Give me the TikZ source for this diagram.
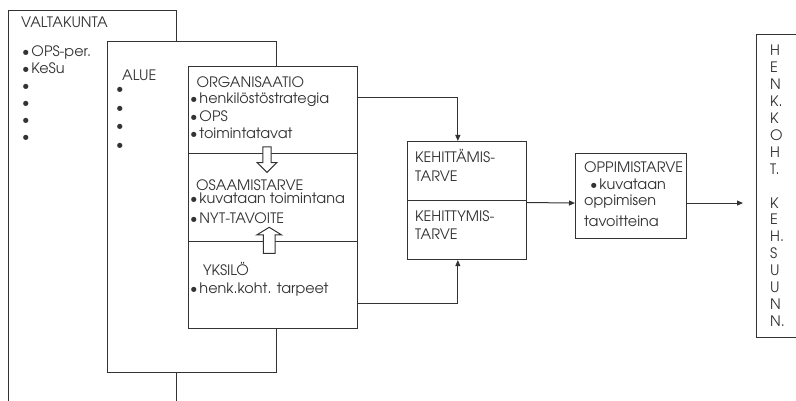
\documentclass[tikz,border=0pt]{standalone}
\usepackage{fontspec}
\setmainfont{TeX Gyre Adventor}
\usetikzlibrary{arrows.meta}
\definecolor{ink}{HTML}{333333}
\newcommand{\bul}{\textbullet\kern1.8pt}
\begin{document}
\begin{tikzpicture}[x=1pt,y=-1pt,
  frame/.style={draw=ink, line width=1.1pt, fill=white, inner sep=0pt, anchor=north west},
  lbl/.style={anchor=base west, inner sep=0pt, text=ink, font=\fontsize{14.4}{17}\selectfont},
  link/.style={draw=ink, line width=1pt, -{Triangle[length=6pt,width=5pt]}},
  hollow/.style={draw=ink, line width=1pt, fill=white, line join=miter}]
\clip (0,0) rectangle (796,401);

% nested frames: country, region, organisation
\node[frame, minimum width=167.7pt, minimum height=430pt] (valta) at (8,10) {};
\node[frame, minimum width=168.7pt, minimum height=331pt] (alue) at (107.3,41) {};
\node[frame, minimum width=168.4pt, minimum height=87pt] (org) at (188.3,66) {};
\node[frame, minimum width=168.4pt, minimum height=88pt] (osa) at (188.3,153) {};
\node[frame, minimum width=168.4pt, minimum height=87pt] (yks) at (188.3,241) {};

% hollow block arrows across the dividers
\draw[hollow] (262.8,147) -- (271.2,147) -- (271.2,162.7) -- (276.8,162.7)
  -- (267,172.3) -- (257.2,162.7) -- (262.8,162.7) -- cycle;
\draw[hollow] (263.4,253.3) -- (275,253.3) -- (275,235) -- (281.7,235)
  -- (269.2,227.3) -- (256.7,235) -- (263.4,235) -- cycle;

% need boxes
\node[frame, minimum width=119pt, minimum height=59pt] (keh1) at (406.7,141) {};
\node[frame, minimum width=119pt, minimum height=59pt] (keh2) at (406.7,200) {};
\node[frame, minimum width=111pt, minimum height=85pt] (opp) at (575,153.3) {};
\node[frame, minimum width=60pt, minimum height=303pt] (henk) at (756,34) {};

% connectors
\draw[link] ([yshift=12.5pt]org.east) -| ([xshift=-8.9pt]keh1.north);
\draw[link] ([yshift=-18.2pt]yks.east) -| ([xshift=-8.9pt]keh2.south);
\draw[link] ([yshift=-2.5pt]keh2.north east) -- ([yshift=-6.7pt]opp.west);
\draw[link, shorten >=13pt] ([yshift=-6.7pt]opp.east) -- ([yshift=-17pt]henk.west);

% country level
\node[lbl] (v0) at (21,28) {VALTAKUNTA};
\node[lbl] (v1) at (22,56.5) {\bul OPS-per.};
\node[lbl] (v2) at (22,73.5) {\bul KeSu};
\node[lbl] (v3) at (22,90.5) {\textbullet};
\node[lbl] (v4) at (22,107.5) {\textbullet};
\node[lbl] (v5) at (22,124.5) {\textbullet};
\node[lbl] (v6) at (22,141.5) {\textbullet};

% region level
\node[lbl] (a0) at (122,81) {ALUE};
\node[lbl] (a1) at (116,94) {\textbullet};
\node[lbl] (a2) at (116,113) {\textbullet};
\node[lbl] (a3) at (116,131) {\textbullet};
\node[lbl] (a4) at (116,150) {\textbullet};

% organisation column
\node[lbl] (o0) at (196.5,88) {ORGANISAATIO};
\node[lbl] (o1) at (190,104) {\bul henkilöstöstrategia};
\node[lbl] (o2) at (190,122) {\bul OPS};
\node[lbl] (o3) at (190,139) {\bul toimintatavat};
\node[lbl] (s0) at (196,191) {OSAAMISTARVE};
\node[lbl] (s1) at (190,204) {\bul kuvataan toimintana};
\node[lbl] (s2) at (190,223) {\bul NYT-TAVOITE};
\node[lbl] (y0) at (203,275) {YKSILÖ};
\node[lbl] (y1) at (190,293) {\bul henk.koht. tarpeet};

% need texts
\node[lbl] (k1) at (415,163) {KEHITTÄMIS-};
\node[lbl] (k2) at (415,182) {TARVE};
\node[lbl] (k3) at (415,222) {KEHITTYMIS-};
\node[lbl] (k4) at (415,240) {TARVE};

\node[lbl] (p0) at (584,173) {OPPIMISTARVE};
\node[lbl] (p1) at (590,189.5) {\bul kuvataan};
\node[lbl] (p2) at (584,206) {oppimisen};
\node[lbl] (p3) at (584,226) {tavoitteina};

% vertical caption
\foreach \t [count=\i] in {H,E,N,K.,K,O,H,T.,{},K,E,H.,S,U,U,N,N.}
  \node[lbl] (h\i) at (770,{56+16.9*(\i-1)}) {\t};
\end{tikzpicture}
\end{document}
